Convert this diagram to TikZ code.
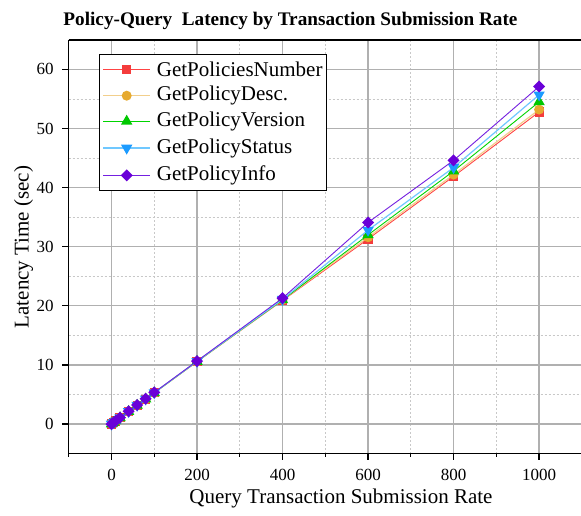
\documentclass[tikz,border=0pt]{standalone}
\usepackage{fontspec}
\setmainfont{Liberation Serif}
\usetikzlibrary{plotmarks}
\definecolor{cNum}{HTML}{FF4444}
\definecolor{cNumM}{HTML}{F43C3C}
\definecolor{cDescL}{HTML}{F2CF8C}
\definecolor{cDescM}{HTML}{E6AA30}
\definecolor{cVer}{HTML}{00D400}
\definecolor{cVerM}{HTML}{00C800}
\definecolor{cStaL}{HTML}{70C8FF}
\definecolor{cStaM}{HTML}{1C9BFF}
\definecolor{cInf}{HTML}{7420E0}
\definecolor{cInfM}{HTML}{6A00D8}
\definecolor{majgrid}{HTML}{B0B0B0}
\definecolor{mingrid}{HTML}{C8C8C8}
\pgfdeclareplotmark{mysq}{\pgfpathrectangle{\pgfqpoint{-\pgfplotmarksize}{-\pgfplotmarksize}}{\pgfqpoint{2\pgfplotmarksize}{2\pgfplotmarksize}}\pgfusepathqfill}
\pgfdeclareplotmark{mycirc}{\pgfpathcircle{\pgfpointorigin}{\pgfplotmarksize}\pgfusepathqfill}
\pgfdeclareplotmark{myutri}{\pgfpathmoveto{\pgfqpointpolar{90}{\pgfplotmarksize}}\pgfpathlineto{\pgfqpointpolar{210}{\pgfplotmarksize}}\pgfpathlineto{\pgfqpointpolar{330}{\pgfplotmarksize}}\pgfpathclose\pgfusepathqfill}
\pgfdeclareplotmark{mydtri}{\pgfpathmoveto{\pgfqpointpolar{270}{\pgfplotmarksize}}\pgfpathlineto{\pgfqpointpolar{30}{\pgfplotmarksize}}\pgfpathlineto{\pgfqpointpolar{150}{\pgfplotmarksize}}\pgfpathclose\pgfusepathqfill}
\pgfdeclareplotmark{mydmd}{\pgfpathmoveto{\pgfqpoint{0pt}{\pgfplotmarksize}}\pgfpathlineto{\pgfqpoint{\pgfplotmarksize}{0pt}}\pgfpathlineto{\pgfqpoint{0pt}{-\pgfplotmarksize}}\pgfpathlineto{\pgfqpoint{-\pgfplotmarksize}{0pt}}\pgfpathclose\pgfusepathqfill}
\tikzset{
  lNum/.style={draw=cNum, line width=0.9pt},
  lDesc/.style={draw=cDescL, line width=1.2pt},
  lVer/.style={draw=cVer, line width=0.9pt},
  lSta/.style={draw=cStaL, line width=1.2pt},
  lInf/.style={draw=cInf, line width=0.9pt},
  sNum/.style={lNum, mark=mysq, mark size=4.6pt, mark options={fill=cNumM}},
  sDesc/.style={lDesc, mark=mycirc, mark size=5pt, mark options={fill=cDescM}},
  sVer/.style={lVer, mark=myutri, mark size=6.6pt, mark options={fill=cVerM}},
  sSta/.style={lSta, mark=mydtri, mark size=6.6pt, mark options={fill=cStaM}},
  sInf/.style={lInf, mark=mydmd, mark size=6pt, mark options={fill=cInfM}},
  ticklab/.style={font=\fontsize{17}{20}\selectfont, inner sep=0pt},
  axlab/.style={font=\fontsize{21}{25}\selectfont, inner sep=0pt},
  legtext/.style={font=\fontsize{21}{25}\selectfont, inner sep=0pt, anchor=west},
  majg/.style={draw=majgrid, line width=1.3pt},
  ming/.style={draw=mingrid, line width=0.8pt, dash pattern=on 2pt off 2pt}
}
\begin{document}
\begin{tikzpicture}[x=1pt,y=1pt]
\useasboundingbox (0,0) rectangle (581,515);
\fill[white] (0,0) rectangle (581,515);
\begin{scope}[shift={(111.5,91)},x=0.4276pt,y=5.91pt]
  % minor grid
  \foreach \gx in {100,300,500,700,900} \draw[ming] (\gx,-5) -- (\gx,65);
  \foreach \gy in {5,15,25,35,45,55} \draw[ming] (-100,\gy) -- (1100,\gy);
  % major grid
  \foreach \gx in {0,200,400,600,800,1000} \draw[majg] (\gx,-5) -- (\gx,65);
  \foreach \gy in {0,10,20,30,40,50,60} \draw[majg] (-100,\gy) -- (1100,\gy);
  % axes
  \draw[black, line width=1.5pt] (-100,65) -- (-100,-5) -- (1100,-5);
  \draw[black, line width=1.5pt] (-100,65) -- (1100,65);
  % x ticks
  \foreach \gx in {0,200,400,600,800,1000} {
    \draw[black, line width=1.3pt] (\gx,-5) -- ++(0,-6pt);
    \node[ticklab, anchor=base] (xl\gx) at ([yshift=-26.5pt]\gx,-5) {\gx};
  }
  \foreach \gx in {-100,100,300,500,700,900} \draw[black, line width=1.3pt] (\gx,-5) -- ++(0,-3.5pt);
  % y ticks
  \foreach \gy in {0,10,20,30,40,50,60} {
    \draw[black, line width=1.3pt] (-100,\gy) -- ++(-7pt,0);
    \node[ticklab, anchor=east] (yl\gy) at ([xshift=-15pt]-100,\gy) {\gy};
  }
  % data
  \draw[sNum] plot coordinates {(0,0) (5,0.26) (10,0.52) (20,1.05) (40,2.1) (60,3.15) (80,4.2) (100,5.27) (200,10.55) (400,20.9) (600,31.3) (800,41.9) (1000,52.8)};
  \draw[sDesc] plot coordinates {(0,0) (5,0.26) (10,0.52) (20,1.05) (40,2.1) (60,3.15) (80,4.2) (100,5.27) (200,10.55) (400,21.0) (600,31.6) (800,42.2) (1000,53.2)};
  \draw[sVer] plot coordinates {(0,0) (5,0.26) (10,0.52) (20,1.05) (40,2.1) (60,3.15) (80,4.2) (100,5.28) (200,10.58) (400,21.0) (600,32.0) (800,42.8) (1000,54.5)};
  \draw[sSta] plot coordinates {(0,0) (5,0.27) (10,0.53) (20,1.06) (40,2.12) (60,3.18) (80,4.24) (100,5.3) (200,10.6) (400,21.1) (600,32.8) (800,43.4) (1000,55.7)};
  \draw[sInf] plot coordinates {(0,0) (5,0.27) (10,0.54) (20,1.07) (40,2.14) (60,3.2) (80,4.27) (100,5.34) (200,10.65) (400,21.3) (600,34.1) (800,44.6) (1000,57.1)};
\end{scope}
% legend
\draw[black, line width=0.9pt, fill=white] (99.3,325) rectangle (326.7,460.7);
\coordinate (ka1) at (103,445.3); \coordinate (kb1) at (150,445.3);
\coordinate (ka2) at (103,419.3); \coordinate (kb2) at (150,419.3);
\coordinate (ka3) at (103,393.7); \coordinate (kb3) at (150,393.7);
\coordinate (ka4) at (103,367);   \coordinate (kb4) at (150,367);
\coordinate (ka5) at (103,339.7); \coordinate (kb5) at (150,339.7);
\draw[lNum] (ka1) -- (kb1);
\draw[lDesc] (ka2) -- (kb2);
\draw[lVer] (ka3) -- (kb3);
\draw[lSta] (ka4) -- (kb4);
\draw[lInf] (ka5) -- (kb5);
\draw[sNum, only marks] plot coordinates {(126.7,445.3)};
\draw[sDesc, only marks] plot coordinates {(126.7,419.3)};
\draw[sVer, only marks] plot coordinates {(126.7,393.7)};
\draw[sSta, only marks] plot coordinates {(126.7,367)};
\draw[sInf, only marks] plot coordinates {(126.7,339.7)};
\node[legtext] (l1) at (156.7,445.3) {GetPoliciesNumber};
\node[legtext] (l2) at (156.7,419.3) {GetPolicyDesc.};
\node[legtext] (l3) at (156.7,393.7) {GetPolicyVersion};
\node[legtext] (l4) at (156.7,367) {GetPolicyStatus};
\node[legtext] (l5) at (156.7,339.7) {GetPolicyInfo};
% titles
\node[font=\fontsize{19.2}{23}\selectfont\bfseries, anchor=base, inner sep=0pt] (title) at (290.5,489) {Policy-Query\ \ Latency by Transaction Submission Rate};
\node[axlab, anchor=base] (xlab) at (341,12) {Query Transaction Submission Rate};
\node[axlab, rotate=90] (ylab) at (23.5,268) {Latency Time (sec)};
\end{tikzpicture}
\end{document}
